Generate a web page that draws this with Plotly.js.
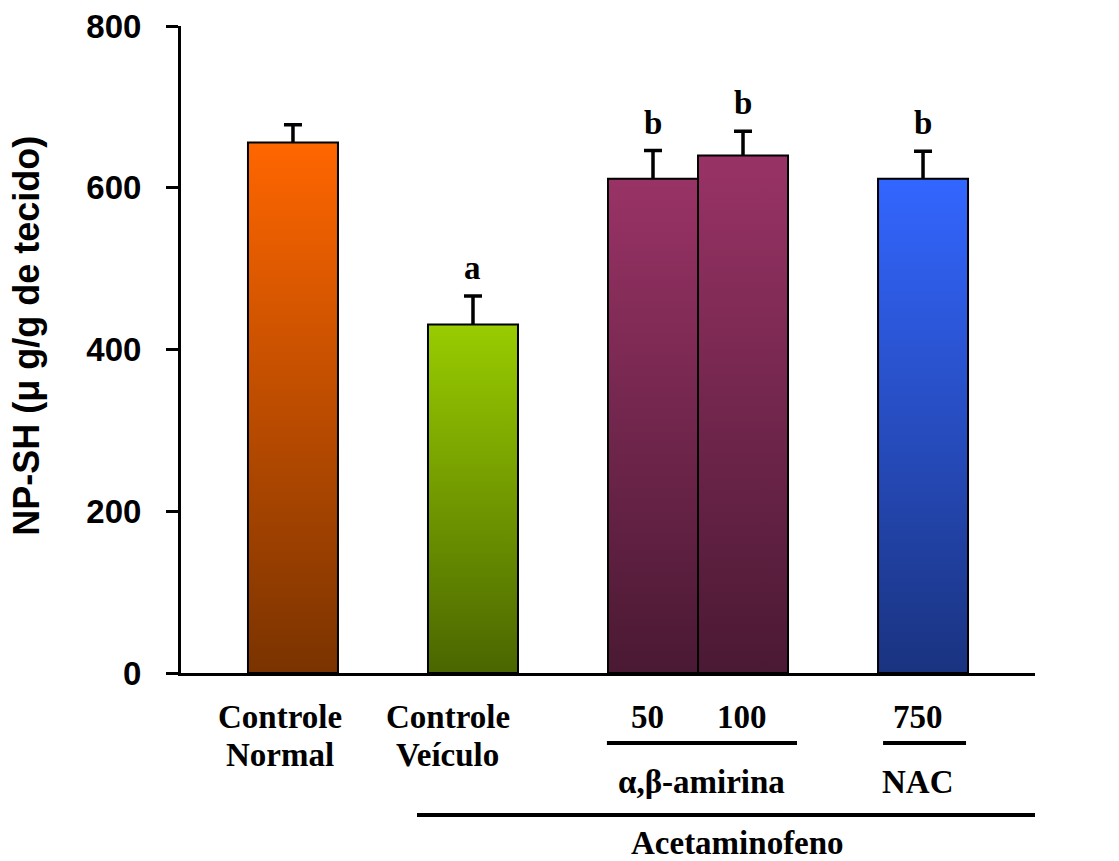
<!DOCTYPE html>
<html>
<head>
<meta charset="utf-8">
<script src="https://cdn.plot.ly/plotly-3.0.1.min.js"></script>
<style>
  html, body { margin: 0; padding: 0; background: #fff; }
  #chart { width: 1119px; height: 861px; }
</style>
</head>
<body>
<div id="chart"></div>
<script>
// Group positions on the numeric x axis (the two α,β-amirina doses sit side by side)
const groupX = [1, 2, 3, 3.5, 4.5];
// NP-SH content (µg/g tissue), mean and upper error (SEM)
const npsh = [656, 431, 611, 640, 611];
const npshErr = [22, 35, 35, 30, 34];
// Significance letters above each bar
const sigLetters = ['', 'a', 'b', 'b', 'b'];
// Labels written under each bar
const barLabels = ['Controle\nNormal', 'Controle\nVeículo', '50', '100', '750'];
const unitLabel = 'mg/kg';
const groupLabels = ['α,β-amirina', 'NAC', 'Acetaminofeno'];
const yTicks = [0, 200, 400, 600, 800];
const yTitle = 'NP-SH (\u03bc g/g de tecido)';

// Vertical gradient colours of each bar (top → bottom)
const topColors = ['#FF6600', '#99CC00', '#993366', '#993366', '#3366FF'];
const bottomColors = ['#7A3300', '#4A6600', '#4A1933', '#4A1933', '#1A3380'];

const serif = 'Liberation Serif, Times New Roman, serif';
const sans = 'Liberation Sans, Arial, sans-serif';

const trace = {
  type: 'bar',
  x: groupX,
  y: npsh,
  width: 0.5,
  marker: { color: topColors, line: { color: '#000', width: 2 } },
  error_y: {
    type: 'data', symmetric: false, array: npshErr,
    arrayminus: npsh.map(() => 0),
    color: '#000', thickness: 3.5, width: 9
  },
  hoverinfo: 'skip'
};

const annotations = [];

// significance letters, anchored on top of the error bar
groupX.forEach((x, i) => {
  if (!sigLetters[i]) return;
  annotations.push({
    x: x, y: npsh[i] + npshErr[i], xref: 'x', yref: 'y',
    text: sigLetters[i], showarrow: false, yanchor: 'bottom', yshift: 8,
    font: { family: serif, size: 33, color: '#000', weight: 'bold' }
  });
});

// text under the axis, centred where it is drawn
const labelX = [0.928, 1.861, 2.972, 3.494, 4.472];
const lineY = [-0.068, -0.1267];
barLabels.forEach((lab, i) => {
  lab.split('\n').forEach((part, j) => {
    annotations.push({
      x: labelX[i], y: lineY[j], xref: 'x', yref: 'paper',
      text: part, showarrow: false, xanchor: 'center', yanchor: 'middle',
      font: { family: serif, size: 33, color: '#000', weight: 'bold' }
    });
  });
});
annotations.push({
  x: 5.3, y: -0.068, xref: 'x', yref: 'paper', text: unitLabel, showarrow: false,
  xanchor: 'center', yanchor: 'middle',
  font: { family: serif, size: 31, color: '#000', weight: 'bold' }
});
const groupLabelX = [3.267, 4.472, 3.467];
const groupLabelY = [-0.1685, -0.1685, -0.2627];
groupLabels.forEach((lab, i) => {
  annotations.push({
    x: groupLabelX[i], y: groupLabelY[i], xref: 'x', yref: 'paper',
    text: lab, showarrow: false, xanchor: 'center', yanchor: 'middle',
    height: 34, valign: 'middle',
    font: { family: serif, size: 33, color: '#000', weight: 'bold' }
  });
});

// y-axis title
annotations.push({
  x: -0.181, y: 0.522, xref: 'paper', yref: 'paper', text: yTitle,
  showarrow: false, textangle: -90, xanchor: 'center', yanchor: 'middle',
  font: { family: sans, size: 36, color: '#000', weight: 'bold' }
});

// grouping brackets under the x axis
const bracket = (x0, x1, y) => ({
  type: 'line', xref: 'x', yref: 'paper', x0: x0, x1: x1, y0: y, y1: y,
  line: { color: '#000', width: 4 }
});
const shapes = [
  bracket(2.744, 3.8, -0.1082),
  bracket(4.278, 4.739, -0.1082),
  bracket(1.689, 5.167, -0.2195)
];

const layout = {
  width: 1119, height: 861,
  margin: { l: 181, r: 84, t: 26, b: 188 },
  paper_bgcolor: '#fff', plot_bgcolor: '#fff',
  showlegend: false,
  xaxis: {
    range: [0.378, 5.122], showgrid: false, zeroline: false,
    showline: true, linecolor: '#000', linewidth: 3,
    showticklabels: false, ticks: ''
  },
  yaxis: {
    range: [0, 800], tickvals: yTicks, showgrid: false, zeroline: false,
    showline: true, linecolor: '#000', linewidth: 3,
    ticks: 'outside', ticklen: 12, tickwidth: 3, tickcolor: '#000',
    ticklabelstandoff: 18,
    tickfont: { family: sans, size: 33, color: '#000', weight: 'bold' }
  },
  annotations: annotations,
  shapes: shapes
};

const gd = document.getElementById('chart');
Plotly.newPlot(gd, [trace], layout, { staticPlot: true, displayModeBar: false })
  .then(applyGradients)
  .then(trimErrorBarBases);

// swap the flat bar fills for vertical linear gradients
function applyGradients() {
  const ns = 'http://www.w3.org/2000/svg';
  const svg = gd.querySelector('.main-svg');
  let defs = svg.querySelector('defs');
  if (!defs) { defs = document.createElementNS(ns, 'defs'); svg.insertBefore(defs, svg.firstChild); }
  const paths = gd.querySelectorAll('.barlayer .point path');
  paths.forEach((p, i) => {
    const g = document.createElementNS(ns, 'linearGradient');
    g.setAttribute('id', 'barfill' + i);
    g.setAttribute('x1', '0'); g.setAttribute('y1', '0');
    g.setAttribute('x2', '0'); g.setAttribute('y2', '1');
    [[0, topColors[i]], [1, bottomColors[i]]].forEach(([off, col]) => {
      const s = document.createElementNS(ns, 'stop');
      s.setAttribute('offset', off);
      s.setAttribute('stop-color', col);
      g.appendChild(s);
    });
    defs.appendChild(g);
    p.style.fill = 'url(#barfill' + i + ')';
  });
}

// upper-only error bars: drop the cross-piece drawn at the bar top
function trimErrorBarBases() {
  gd.querySelectorAll('.errorbar path').forEach(p => {
    const d = p.getAttribute('d') || '';
    p.setAttribute('d', d.replace(/m-?[\d.]+,0h[\d.]+\s*$/, ''));
  });
}
</script>
</body>
</html>
